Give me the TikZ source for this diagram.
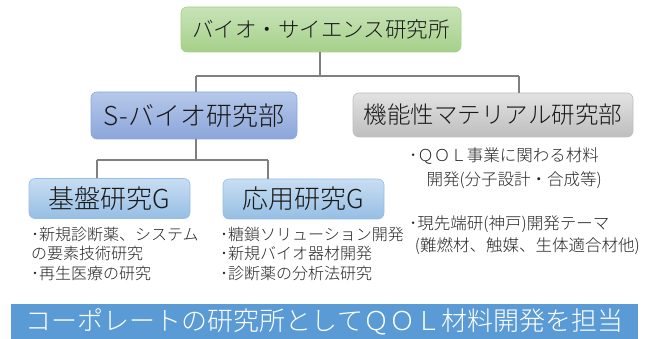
\documentclass[tikz,border=0pt]{standalone}
\usepackage{fontspec}
\setmainfont{Noto Sans CJK JP Light}
\usepackage{tikz}
\definecolor{lab_green_t}{RGB}{200, 227, 184}
\definecolor{lab_green_b}{RGB}{166, 208, 138}
\definecolor{dep_blue_t}{RGB}{182, 200, 234}
\definecolor{dep_blue_b}{RGB}{140, 166, 218}
\definecolor{dep_grey_t}{RGB}{226, 226, 226}
\definecolor{dep_grey_b}{RGB}{190, 190, 190}
\definecolor{grp_blue_t}{RGB}{200, 222, 242}
\definecolor{grp_blue_b}{RGB}{150, 190, 228}
\definecolor{band_blue}{RGB}{91, 155, 213}
\definecolor{link_grey}{RGB}{128, 128, 128}
\tikzstyle{box}=[rectangle,rounded corners=6pt,inner sep=0pt,line width=0.6pt,text=black!90]
\tikzstyle{lab}=[box,top color=lab_green_t,bottom color=lab_green_b,draw=lab_green_b,
  minimum width=280pt,minimum height=45pt,font=\fontsize{21.5pt}{24pt}\selectfont]
\tikzstyle{dep}=[box,top color=dep_blue_t,bottom color=dep_blue_b,draw=dep_blue_b,
  minimum width=206pt,minimum height=47pt,font=\fontsize{26pt}{28pt}\selectfont]
\tikzstyle{depg}=[box,top color=dep_grey_t,bottom color=dep_grey_b,draw=dep_grey_b,
  minimum width=280pt,minimum height=44pt,font=\fontsize{23.5pt}{26pt}\selectfont]
\tikzstyle{grp}=[box,top color=grp_blue_t,bottom color=grp_blue_b,draw=grp_blue_b,
  minimum width=161pt,minimum height=40pt,font=\fontsize{26pt}{28pt}\selectfont]
\tikzstyle{note}=[anchor=north west,inner sep=0pt,align=left,
  font=\fontsize{16pt}{19.5pt}\selectfont,text=black!85]
\tikzstyle{link}=[draw=link_grey,line width=2pt]

\begin{document}
\begin{tikzpicture}[x=1pt,y=1pt]
    \useasboundingbox (0,0) rectangle (646,-339);
    % boxes
    \node [style=lab] (lab) at (321,-29.5) {バイオ・サイエンス研究所};
    \node [style=dep] (sbio) at (194,-115.5) {S-バイオ研究部};
    \node [style=depg] (mat) at (493,-115) {機能性マテリアル研究部};
    \node [style=grp] (base) at (109.5,-198.5) {基盤研究G};
    \node [style=grp] (appl) at (303.5,-199) {応用研究G};
    % notes
    \node [style=note] (basenote) at (31,-226.5) {･新規診断薬、システム\\の要素技術研究\\･再生医療の研究};
    \node [style=note] (applnote) at (220,-226.5) {･糖鎖ソリューション開発\\･新規バイオ器材開発\\･診断薬の分析法研究};
    \node [style=note,font=\fontsize{16.5pt}{24pt}\selectfont] (qolnote) at (409,-147.5)
      {･ＱＯＬ事業に関わる材料\\\hspace*{1.05em}開発(分子設計・合成等)};
    \node [style=note,font=\fontsize{16.5pt}{22pt}\selectfont] (kobenote) at (409,-215.5)
      {･現先端研(神戸)開発テーマ\\\hspace*{0.35em}(難燃材、触媒、生体適合材他)};
    % banner
    \node [rectangle,fill=band_blue,inner sep=0pt,minimum width=627pt,minimum height=35pt,
      text=white,font=\fontsize{26pt}{28pt}\selectfont] (band) at (324.5,-321.5)
      {コーポレートの研究所としてＱＯＬ材料開発を担当};
    % links
    \coordinate (bus1) at (320,-76);
    \coordinate (bus1l) at (196,-76);
    \coordinate (bus1r) at (519,-76);
    \coordinate (matin) at (519,-93);
    \coordinate (sbiout) at (196,-139);
    \coordinate (bus2) at (196,-160.5);
    \coordinate (bus2l) at (97,-160.5);
    \coordinate (bus2r) at (268,-160.5);
    \draw [style=link] (lab.south -| bus1) to (bus1);
    \draw [style=link] (bus1l) to (bus1r);
    \draw [style=link] (bus1l) to (sbio.north -| bus1l);
    \draw [style=link] (bus1r) to (matin);
    \draw [style=link] (sbiout) to (bus2);
    \draw [style=link] (bus2l) to (bus2r);
    \draw [style=link] (bus2l) to (base.north -| bus2l);
    \draw [style=link] (bus2r) to (appl.north -| bus2r);
\end{tikzpicture}
\end{document}
